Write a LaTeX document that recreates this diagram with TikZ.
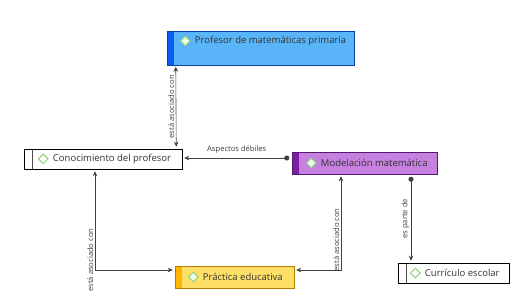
\documentclass[tikz,border=0pt]{standalone}
\usepackage{fontspec}
\setmainfont{Open Sans}
\usepackage{tikz}
\usetikzlibrary{positioning, shapes.geometric, arrows.meta}

\definecolor{profbar}{HTML}{0A5CF0}
\definecolor{proffill}{HTML}{5AB4F8}
\definecolor{modbar}{HTML}{7A1FA0}
\definecolor{modfill}{HTML}{C77FE0}
\definecolor{pracbar}{HTML}{FFB400}
\definecolor{pracfill}{HTML}{FFE066}
\definecolor{icongreen}{HTML}{8FD07A}
\definecolor{linkgray}{HTML}{404040}

\begin{document}
\begin{tikzpicture}[x=1pt, y=-1pt,
  every node/.style={font=\fontsize{9.5}{11}\selectfont, text=black!80},
  concept/.style={draw=#1!70!black, line width=0.5pt, inner sep=0pt, anchor=center},
  bar/.style={path picture={\fill[#1] (path picture bounding box.north west) rectangle ([xshift=7pt]path picture bounding box.south west);}},
  plainbar/.style={path picture={\draw[black!70, line width=0.5pt] ([xshift=8pt]path picture bounding box.north west) -- ([xshift=8pt]path picture bounding box.south west);}},
  icon/.style={diamond, draw=icongreen, fill=#1, line width=1pt, minimum width=10pt, minimum height=10pt, inner sep=0pt},
  title/.style={anchor=west, inner sep=0pt},
  link/.style={draw=linkgray, line width=0.6pt},
  linklabel/.style={font=\fontsize{7.6}{9}\selectfont, text=black!75, inner sep=1.5pt},
  both/.style={{Stealth[length=5pt, width=4.5pt]}-{Stealth[length=5pt, width=4.5pt]}},
  dotted tip/.style={{Circle[length=5pt]}-{Stealth[length=5pt, width=4.5pt]}}]
  \useasboundingbox (0,0) rectangle (527,304);

  \node[concept=profbar, fill=proffill, bar=profbar, minimum width=187pt, minimum height=34pt] (prof) at (260.5,48) {};
  \node[icon=green!8, right=13pt of prof.west, yshift=7pt] (profI) {};
  \node[title, right=4pt of profI] (profT) {Profesor de matemáticas primaria};

  \node[concept=black, fill=white, plainbar, minimum width=158pt, minimum height=20pt] (cono) at (103,159) {};
  \node[icon=white, right=14pt of cono.west] (conoI) {};
  \node[title, right=4pt of conoI] (conoT) {Conocimiento del profesor};

  \node[concept=modbar, fill=modfill, bar=modbar, minimum width=145pt, minimum height=22pt] (mod) at (364.5,163) {};
  \node[icon=green!8, right=14pt of mod.west] (modI) {};
  \node[title, right=4pt of modI] (modT) {Modelación matemática};

  \node[concept=pracbar, fill=pracfill, bar=pracbar, minimum width=119pt, minimum height=22pt] (prac) at (234.5,277) {};
  \node[icon=green!8, right=13pt of prac.west] (pracI) {};
  \node[title, right=4pt of pracI] (pracT) {Práctica educativa};

  \node[concept=black, fill=white, plainbar, minimum width=111pt, minimum height=20pt] (curr) at (453.5,273) {};
  \node[icon=white, right=12pt of curr.west] (currI) {};
  \node[title, right=4pt of currI] (currT) {Currículo escolar};

  \draw[link, both]
    ([xshift=9pt, yshift=-1.5pt]prof.south west) -- ([xshift=-6pt, yshift=2pt]cono.north east)
    node[midway, rotate=90, anchor=south, linklabel] {está asociado con};

  \draw[link, dotted tip]
    ([xshift=-2.5pt, yshift=5pt]mod.west) -- ([xshift=2pt, yshift=5pt]mod.west -| cono.east)
    node[midway, above=3pt, linklabel] {Aspectos débiles};

  \draw[link, both]
    ([xshift=-8pt, yshift=-2pt]cono.south) |- ([xshift=-2pt, yshift=7pt]prac.west)
    node[pos=0.45, rotate=90, anchor=south, linklabel] {está asociado con};

  \draw[link, both]
    ([xshift=2pt, yshift=7pt]prac.east) -| ([xshift=-23.5pt, yshift=-2pt]mod.south)
    node[pos=0.66, rotate=90, anchor=south, linklabel] {está asociado con};

  \draw[link, dotted tip]
    ([xshift=46.5pt, yshift=-2.5pt]mod.south) -- ([xshift=-42.5pt, yshift=2pt]curr.north)
    node[midway, rotate=90, anchor=south, linklabel] {es parte de};
\end{tikzpicture}
\end{document}
